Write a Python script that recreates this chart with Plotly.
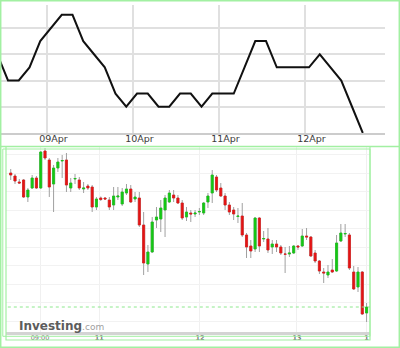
import plotly.graph_objects as go
import pandas as pd

# ---------------- top panel: line series (3-hourly) ----------------
line_start = "2018-04-08 10:00"
line_values = [3, 2, 2, 2.5, 3.5, 4, 4.5, 4.5, 3.5, 3, 2.5, 1.5, 1, 1.5, 1.5, 1, 1,
               1.5, 1.5, 1, 1.5, 1.5, 1.5, 2.5, 3.5, 3.5, 2.5, 2.5, 2.5, 2.5, 3, 2.5,
               2, 1, 0]
top_tickvals = ["2018-04-09", "2018-04-10", "2018-04-11", "2018-04-12"]
top_ticktext = ["09Apr", "10Apr", "11Apr", "12Apr"]

# ---------------- bottom panel: hourly candles ----------------
c_open = [1.2167, 1.2164, 1.2158, 1.2160, 1.2143, 1.2152, 1.2162, 1.2152, 1.2189, 1.2180,
          1.2156, 1.2172, 1.2179, 1.2180, 1.2152, 1.2161, 1.2160, 1.2151, 1.2154, 1.2153,
          1.2133, 1.2142, 1.2142, 1.2140, 1.2135, 1.2143, 1.2136, 1.2147, 1.2151, 1.2141,
          1.2142, 1.2115, 1.2076, 1.2088, 1.2120, 1.2121, 1.2130, 1.2138, 1.2145, 1.2142,
          1.2137, 1.2123, 1.2127, 1.2126, 1.2128, 1.2127, 1.2138, 1.2147, 1.2163, 1.2152,
          1.2144, 1.2135, 1.2130, 1.21235, 1.2124, 1.2105, 1.2094, 1.2091, 1.2122, 1.2101,
          1.2101, 1.2093, 1.2096, 1.2093, 1.2086, 1.2086, 1.2087, 1.2094, 1.2094, 1.2104,
          1.2103, 1.2087, 1.2079, 1.2068, 1.2065, 1.2070, 1.2069, 1.2099, 1.2106, 1.2105,
          1.2068, 1.2053, 1.2068, 1.2027]
c_high = [1.2171, 1.2166, 1.2161, 1.2161, 1.2152, 1.2165, 1.2164, 1.2189, 1.2192, 1.2182,
          1.2175, 1.2182, 1.2185, 1.2187, 1.2162, 1.2166, 1.2163, 1.2158, 1.2156, 1.2155,
          1.2143, 1.21435, 1.2143, 1.2143, 1.2153, 1.2153, 1.2152, 1.2156, 1.2155, 1.2148,
          1.2148, 1.2128, 1.2095, 1.2123, 1.2133, 1.2140, 1.2145, 1.2150, 1.2150, 1.2145,
          1.2140, 1.2133, 1.2130, 1.2130, 1.2132, 1.2138, 1.2147, 1.2170, 1.2165, 1.2157,
          1.2147, 1.2138, 1.2133, 1.2132, 1.2137, 1.2107, 1.2100, 1.2123, 1.2123, 1.2109,
          1.2112, 1.2100, 1.2100, 1.2095, 1.2093, 1.2094, 1.2095, 1.2095, 1.2111, 1.2112,
          1.2104, 1.2090, 1.2080, 1.2072, 1.2075, 1.2081, 1.2105, 1.2116, 1.2116, 1.2107,
          1.2074, 1.2073, 1.2069, 1.2037]
c_low = [1.2160, 1.2156, 1.2156, 1.2142, 1.2138, 1.2151, 1.2151, 1.2151, 1.2180, 1.2143,
         1.2128, 1.2168, 1.2162, 1.2148, 1.2148, 1.2156, 1.2150, 1.2147, 1.2150, 1.2128,
         1.2130, 1.2139, 1.2140, 1.2130, 1.2130, 1.2140, 1.2134, 1.2145, 1.2137, 1.2138,
         1.2113, 1.2065, 1.2068, 1.2087, 1.2112, 1.2108, 1.2103, 1.2137, 1.2138, 1.2136,
         1.2120, 1.2119, 1.2118, 1.2123, 1.2125, 1.2125, 1.2132, 1.2137, 1.2148, 1.2143,
         1.2130, 1.2125, 1.2120, 1.2117, 1.2103, 1.2082, 1.2082, 1.2088, 1.2088, 1.2098,
         1.2087, 1.2086, 1.2088, 1.2085, 1.2067, 1.2083, 1.2086, 1.2090, 1.2093, 1.2100,
         1.2083, 1.2077, 1.2066, 1.2057, 1.2062, 1.2067, 1.2068, 1.2098, 1.2103, 1.2070,
         1.2050, 1.2048, 1.2025, 1.2018]
c_close = [1.2165, 1.2159, 1.2157, 1.2143, 1.2150, 1.2162, 1.2152, 1.2188, 1.2182, 1.2153,
           1.2172, 1.2178, 1.21795, 1.2155, 1.2157, 1.21615, 1.2152, 1.2152, 1.2152, 1.2133,
           1.2141, 1.21405, 1.2141, 1.2133, 1.2144, 1.2144, 1.2148, 1.2151, 1.2138, 1.2143,
           1.2115, 1.2077, 1.2088, 1.2118, 1.2123, 1.2132, 1.2142, 1.2147, 1.2142, 1.2137,
           1.2122, 1.2128, 1.2126, 1.2127, 1.21285, 1.2137, 1.2144, 1.2165, 1.2150, 1.2144,
           1.2135, 1.2128, 1.2126, 1.2124, 1.2105, 1.2093, 1.2089, 1.2122, 1.2094, 1.21015,
           1.2090, 1.2096, 1.2093, 1.2087, 1.20858, 1.2087, 1.2094, 1.2093, 1.2104, 1.2103,
           1.2084, 1.2079, 1.2069, 1.2067, 1.2068, 1.2068, 1.2097, 1.2107, 1.21065, 1.2072,
           1.2051, 1.2068, 1.2026, 1.2033]
candle_idx = list(range(len(c_open)))
bottom_tickvals = [6.83, 20.66, 44.14, 66.75, 82.96]
bottom_ticktext = ["09:00", "<b>11</b>", "<b>12</b>", "<b>13</b>", "<b>1</b>"]

W, H = 400, 348
def px_x(v):
    return v / W
def px_y(v):
    return 1 - v / H

line_times = pd.date_range(line_start, periods=len(line_values), freq="3h")

fig = go.Figure()
fig.add_trace(go.Scatter(x=line_times, y=line_values, mode="lines",
                         line=dict(color="#111111", width=2),
                         xaxis="x", yaxis="y", showlegend=False))

body_hi = [max(o, c) for o, c in zip(c_open, c_close)]
body_lo = [min(o, c) for o, c in zip(c_open, c_close)]
wick_col = "#a0a0a0"
fig.add_trace(go.Candlestick(x=candle_idx, open=c_open, high=c_high, low=c_low, close=c_close,
                             increasing=dict(line=dict(color=wick_col, width=1), fillcolor=wick_col),
                             decreasing=dict(line=dict(color=wick_col, width=1), fillcolor=wick_col),
                             whiskerwidth=0, xaxis="x2", yaxis="y2", showlegend=False,
                             hoverinfo="skip"))
fig.add_trace(go.Candlestick(x=candle_idx, open=c_open, high=body_hi, low=body_lo, close=c_close,
                             increasing=dict(line=dict(color="#14c814", width=0.6), fillcolor="#14c814"),
                             decreasing=dict(line=dict(color="#e41414", width=0.6), fillcolor="#e41414"),
                             whiskerwidth=0, xaxis="x2", yaxis="y2", showlegend=False))

green = "#a2f0a2"
shapes = [
    dict(type="rect", xref="paper", yref="paper", x0=px_x(0.7), x1=px_x(399.3),
         y0=px_y(347.3), y1=px_y(0.7), line=dict(color=green, width=1.5)),
    dict(type="line", xref="paper", yref="paper", x0=0, x1=1,
         y0=px_y(146.5), y1=px_y(146.5), line=dict(color=green, width=1.5)),
    dict(type="rect", xref="paper", yref="paper", x0=px_x(6), x1=px_x(370),
         y0=px_y(340), y1=px_y(146.5), line=dict(color=green, width=1.2)),
    dict(type="rect", xref="paper", yref="paper", x0=px_x(2.8), x1=px_x(370),
         y0=px_y(336.3), y1=px_y(149), line=dict(color=green, width=1)),
    dict(type="line", xref="x2 domain", yref="y2", x0=0.005, x1=1,
         y0=c_close[-1], y1=c_close[-1], line=dict(color="#8ee88e", width=1, dash="dot")),
]

fig.update_layout(
    width=W, height=H, autosize=False,
    margin=dict(l=0, r=0, t=0, b=0),
    paper_bgcolor="white", plot_bgcolor="white",
    font=dict(family="DejaVu Sans", color="#333333"),
    showlegend=False,
    shapes=shapes,
    xaxis=dict(domain=[0, px_x(385)], anchor="y", type="date",
               range=["2018-04-08 10:46", "2018-04-12 22:12"],
               tickvals=top_tickvals, ticktext=top_ticktext,
               tickfont=dict(size=9.5, color="#3a3a3a"), ticklabelshift=6,
               ticklabelstandoff=-4,
               showgrid=True, gridcolor="#e0e0e0", gridwidth=1.5,
               showline=True, linecolor="#cccccc", linewidth=2, ticks="",
               zeroline=False, fixedrange=True),
    yaxis=dict(domain=[px_y(133), px_y(5)], anchor="x", range=[0, 4.876], dtick=1,
               showticklabels=False, showgrid=True, gridcolor="#e0e0e0", gridwidth=1.5,
               zeroline=False, showline=False, fixedrange=True),
    xaxis2=dict(domain=[px_x(6), px_x(370)], anchor="y2", range=[-1.1, 83.8],
                tickvals=bottom_tickvals, ticktext=bottom_ticktext,
                tickfont=dict(size=6.5, color="#777777"), ticklabelstandoff=-3,
                showgrid=True, gridcolor="#f0f0f0", gridwidth=1,
                showline=True, linecolor="#d4d4d4", linewidth=2.5, ticks="",
                zeroline=False, rangeslider=dict(visible=False), fixedrange=True),
    yaxis2=dict(domain=[px_y(332), px_y(147)], anchor="x2", range=[1.2008, 1.2193],
                tick0=1.2019, dtick=0.00185, showticklabels=False,
                showgrid=True, gridcolor="#f2f2f2", gridwidth=1,
                zeroline=False, showline=False, fixedrange=True),
    annotations=[
        dict(xref="paper", yref="paper", x=px_x(17), y=px_y(326), xanchor="left", yanchor="middle",
             showarrow=False,
             text="<b>Investing</b><span style='font-size:9px;color:#a0a0a0'>.com</span>",
             font=dict(family="DejaVu Sans", size=12, color="#5c5c5c")),
    ],
)

fig.write_html("out.html")
